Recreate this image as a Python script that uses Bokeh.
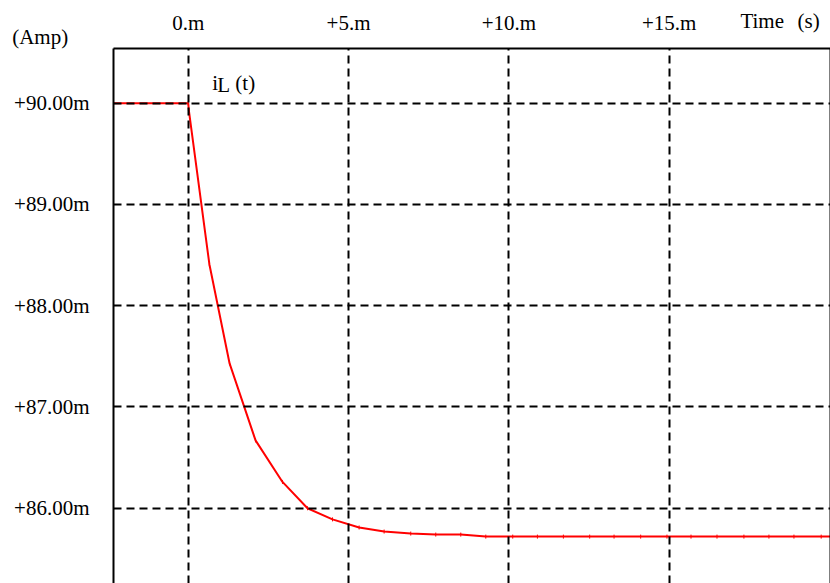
import numpy as np
from bokeh.plotting import figure
from bokeh.models import Range1d, LinearAxis, FixedTicker, Label
from bokeh.core.properties import value
from bokeh.embed import file_html
from bokeh.resources import INLINE

# Inductor current i_L(t) after the switching event (time in ms, current in mA)
t_ms = [-2.5, 0.0, 0.02, 0.66, 1.29, 2.10, 2.94, 3.72, 4.50, 5.33, 6.11, 6.94,
        7.72, 8.50, 9.28, 10.12, 10.89, 11.70, 12.52, 13.28, 14.11, 14.93,
        15.68, 16.49, 17.33, 18.11, 18.89, 19.74, 20.5]
i_mA = [90.00, 90.00, 89.93, 88.41, 87.43, 86.67, 86.26, 86.00, 85.89, 85.81,
        85.77, 85.75, 85.74, 85.74, 85.72, 85.72, 85.72, 85.72, 85.72, 85.72,
        85.72, 85.72, 85.72, 85.72, 85.72, 85.72, 85.72, 85.72, 85.72]

x_ticks = [0, 5, 10, 15]
x_tick_labels = ["0.m", "+5.m", "+10.m", "+15.m"]
y_ticks = [86, 87, 88, 89, 90]
y_tick_labels = ["+86.00m", "+87.00m", "+88.00m", "+89.00m", "+90.00m"]

# axis captions and where they sit (data coordinates, outside the frame)
caption_text = ["Time", "(s)", "(Amp)"]
caption_x = [17.22, 19.0, -5.49]
caption_y = [90.816, 90.816, 90.658]

FONT = "Liberation Serif"
FS = "21px"

p = figure(width=830, height=583, output_backend="svg", toolbar_location=None,
           x_range=Range1d(-2.33, 20.03), y_range=Range1d(85.257, 90.54),
           x_axis_location="above", y_axis_location="left",
           min_border_left=113, min_border_top=48, min_border_right=0,
           min_border_bottom=0)
p.outline_line_color = None
p.background_fill_color = "white"
p.border_fill_color = "white"

# dashed grid, drawn over the curve
for g in (p.xgrid[0], p.ygrid[0]):
    g.grid_line_color = "black"
    g.grid_line_width = 2
    g.grid_line_dash = "8 5"
    g.level = "overlay"
p.xgrid[0].ticker = FixedTicker(ticks=x_ticks)
p.ygrid[0].ticker = FixedTicker(ticks=y_ticks)

# curve
p.line(t_ms, i_mA, line_color="#ff0000", line_width=2)
p.scatter(t_ms, i_mA, marker="dash", angle=np.pi / 2, size=4,
          line_color="#ff0000", line_width=1)

# axes
xa = p.xaxis[0]
xa.ticker = FixedTicker(ticks=x_ticks)
xa.major_label_overrides = {t: s for t, s in zip(x_ticks, x_tick_labels)}
ya = p.yaxis[0]
ya.ticker = FixedTicker(ticks=y_ticks)
ya.major_label_overrides = {t: s for t, s in zip(y_ticks, y_tick_labels)}
for ax in (xa, ya):
    ax.axis_line_color = "black"
    ax.axis_line_width = 2
    ax.major_tick_line_color = None
    ax.minor_tick_line_color = None
    ax.major_label_text_font = FONT
    ax.major_label_text_font_size = FS
    ax.major_label_text_color = "black"
xa.major_label_standoff = 8
ya.major_label_standoff = 18

right = LinearAxis(ticker=FixedTicker(ticks=[]), axis_line_color="black",
                   axis_line_width=2, major_tick_line_color=None,
                   minor_tick_line_color=None, major_label_text_font_size="0px")
p.add_layout(right, "right")

# captions outside the frame: a text renderer on the overlay level
cap = p.text(x=caption_x, y=caption_y, text=caption_text,
             text_font=value(FONT), text_font_size=FS, text_color="black",
             text_baseline="middle", text_align="left")
cap.level = "overlay"

# trace name
def make_text(x, y, s, baseline="alphabetic"):
    return Label(x=x, y=y, text=s, text_font=FONT, text_font_size=FS,
                 text_color="black", text_baseline=baseline, text_align="left")

p.add_layout(make_text(0.75, 90.195, "i"))
p.add_layout(make_text(0.905, 90.175, "L"))
p.add_layout(make_text(1.47, 90.195, "(t)"))

open("out.html", "w").write(file_html(p, INLINE))
